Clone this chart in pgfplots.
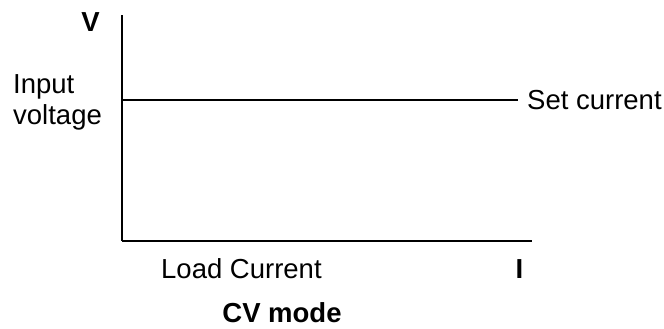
\documentclass[border=0pt]{standalone}
\usepackage{pgfplots}
\pgfplotsset{compat=1.18}
\usepackage{fontspec}
\setmainfont{Liberation Sans}
\begin{document}
\begin{tikzpicture}
\path[use as bounding box] (0pt,0pt) rectangle (664pt,329pt);
\begin{axis}[
    at={(122pt,88pt)}, anchor=origin,
    scale only axis, width=410pt, height=226pt,
    xmin=0, xmax=1, ymin=0, ymax=1,
    axis lines=left,
    axis line style={-, line width=1.6pt},
    xtick=\empty, ytick=\empty,
    clip=false
]
% set current level (constant voltage)
\addplot[black, line width=1.3pt] coordinates {(0,0.624) (0.966,0.624)};
\end{axis}
\begin{scope}[every node/.style={font=\fontsize{27.5}{31}\selectfont, inner sep=0pt}]
\node at (90.5pt,307pt) {\bfseries V};
\node[anchor=west, align=left] at (13pt,227pt) {Input\\voltage};
\node[anchor=west] at (527pt,229pt) {Set current};
\node[anchor=west] at (161pt,60pt) {Load Current};
\node at (519.5pt,60pt) {\bfseries I};
\node at (282pt,16pt) {\bfseries CV mode};
\end{scope}
\end{tikzpicture}
\end{document}
